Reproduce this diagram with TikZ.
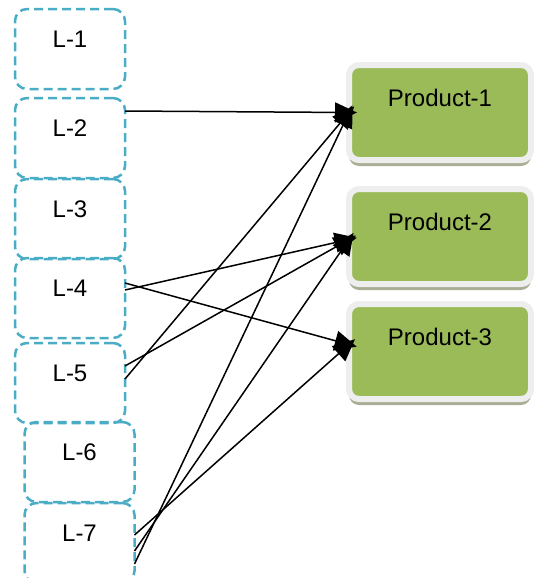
\documentclass[tikz,border=0pt]{standalone}
\usepackage{fontspec}
\setmainfont{Liberation Sans}
\usetikzlibrary{positioning,arrows.meta,shadows}
\definecolor{dashblue}{HTML}{4BACC6}
\definecolor{prodgreen}{HTML}{9BBB59}
\definecolor{rimgray}{HTML}{EEEEEE}
\definecolor{shadegray}{HTML}{A9AF95}

\begin{document}
\begin{tikzpicture}[>=Stealth,font=\fontsize{12}{14}\selectfont]
  \tikzset{
    lbox/.style={draw=dashblue,dash pattern=on 4.5pt off 2.5pt,line width=1.25pt,rounded corners=6pt,
      minimum width=55pt,inner sep=0pt,outer sep=0pt,text height=19.25pt,text depth=20.75pt},
    pbox/.style={draw=rimgray,fill=prodgreen,line width=3pt,rounded corners=5pt,
      minimum width=91pt,inner sep=0pt,outer sep=0pt,text height=20.75pt,text depth=26.75pt,
      drop shadow={shadow xshift=0pt,shadow yshift=-3pt,fill=shadegray,opacity=1}},
    link/.style={-{Triangle[length=11pt,width=10pt]},line width=0.75pt,shorten >=-4pt}
  }
  \useasboundingbox (0,0) rectangle (267pt,-289pt);
  % left column
  \node[lbox,anchor=north west] (l1) at (7.5pt,-4.5pt) {L-1};
  \node[lbox,below=4.5pt of l1] (l2) {L-2};
  \node[lbox,below=0.5pt of l2] (l3) {L-3};
  \node[lbox,below=-0.5pt of l3] (l4) {L-4};
  \node[lbox,below=2.5pt of l4] (l5) {L-5};
  \node[lbox,below=-0.5pt of l5,xshift=4.75pt] (l6) {L-6};
  \node[lbox,below=0.5pt of l6] (l7) {L-7};
  % products
  \node[pbox,anchor=north west] (p1) at (174.5pt,-32.5pt) {Product-1};
  \node[pbox,below=14.5pt of p1] (p2) {Product-2};
  \node[pbox,below=10pt of p2] (p3) {Product-3};
  \draw[link] ([yshift=13.5pt]l2.east) -- (p1.west);
  \draw[link] ([yshift=7.5pt]l4.east) -- ([yshift=3.5pt]p3.west);
  \draw[link] ([yshift=4pt]l4.east) -- ([yshift=-1.5pt]p2.west);
  \draw[link] ([yshift=8.5pt]l5.east) -- ([yshift=-1.5pt]p2.west);
  \draw[link] ([yshift=2pt]l5.east) -- (p1.west);
  \draw[link] ([yshift=4pt]l7.east) -- ([yshift=3.5pt]p3.west);
  \draw[link] ([yshift=-4pt]l7.east) -- ([yshift=-1.5pt]p2.west);
  \draw[link] ([yshift=-10.5pt]l7.east) -- (p1.west);
\end{tikzpicture}
\end{document}
